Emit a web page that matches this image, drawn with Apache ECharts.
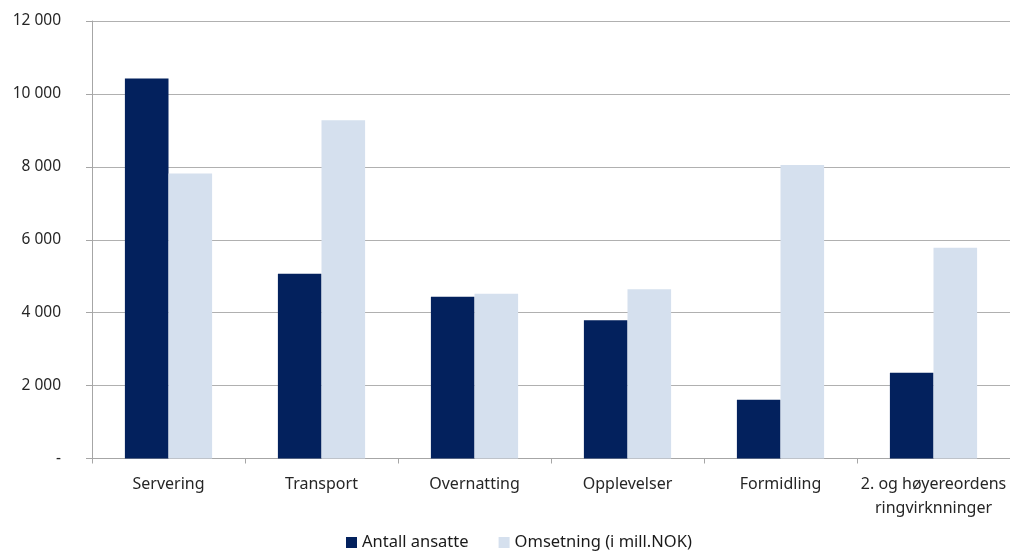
<!DOCTYPE html>
<html><head><meta charset="utf-8">
<script src="https://cdn.jsdelivr.net/npm/echarts@6/dist/echarts.min.js"></script>
<style>html,body{margin:0;padding:0;background:#fff}#c{width:1010px;height:552px}</style>
</head><body><div id="c"></div>
<script>
const categories = ['Servering','Transport','Overnatting','Opplevelser','Formidling','2. og høyereordens\nringvirknninger'];
const antallAnsatte = [10420, 5070, 4440, 3790, 1610, 2350];
const omsetning = [7820, 9280, 4520, 4640, 8050, 5780];
const seriesNames = ['Antall ansatte', 'Omsetning (i mill.NOK)'];
const yTicks = {min: 0, max: 12000, interval: 2000};

const chart = echarts.init(document.getElementById('c'), null, {renderer: 'canvas'});
const font = 'Noto Sans';
function fmt(v){ if (v === 0) return '-'; return String(v).replace(/\B(?=(\d{3})+(?!\d))/g, ' '); }
chart.setOption({
  animation: false,
  grid: {left: 92, right: 0, top: 21, bottom: 93.5, containLabel: false},
  legend: {
    bottom: -4, left: 341, itemWidth: 11, itemHeight: 11, itemGap: 30,
    icon: 'rect',
    textStyle: {fontFamily: font, fontSize: 16.5, color: '#1a1a1a'},
    data: seriesNames
  },
  xAxis: {
    type: 'category', data: categories,
    axisLine: {lineStyle: {color: '#a6a6a6'}},
    axisTick: {show: true, alignWithLabel: false, length: 5, lineStyle: {color: '#a6a6a6'}},
    axisLabel: {interval: 0, fontFamily: font, fontSize: 16, color: '#262626', margin: 14, lineHeight: 24}
  },
  yAxis: {
    type: 'value', min: yTicks.min, max: yTicks.max, interval: yTicks.interval,
    axisLine: {show: true, lineStyle: {color: '#a6a6a6'}},
    axisTick: {show: true, length: 6, lineStyle: {color: '#a6a6a6'}},
    splitLine: {lineStyle: {color: '#b0b0b0', width: 1}},
    axisLabel: {formatter: fmt, fontFamily: font, fontSize: 15.5, color: '#262626', margin: 31}
  },
  series: [
    {name: seriesNames[0], type: 'bar', data: antallAnsatte, barGap: '0%', barCategoryGap: '43%',
     itemStyle: {color: '#03215d'}},
    {name: seriesNames[1], type: 'bar', data: omsetning, barGap: '0%', barCategoryGap: '43%',
     itemStyle: {color: '#d5e0ee'}}
  ]
});
</script></body></html>
